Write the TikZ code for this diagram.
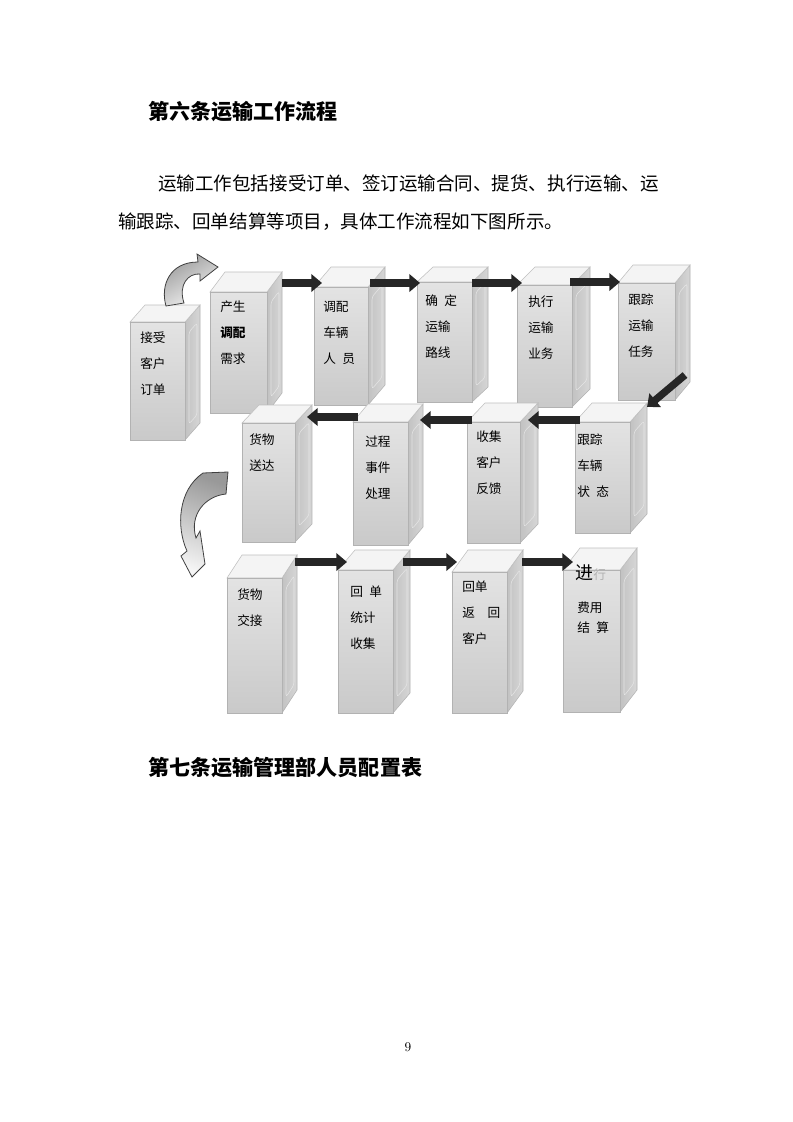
\documentclass[tikz,border=0pt]{standalone}
\usepackage{fontspec}
\newfontfamily\cjk{Noto Sans CJK SC}
\usetikzlibrary{calc,arrows.meta}
\newcommand\DrawPillar[7]{% name, left, front top, right, bottom, depth x, depth y
  \pgfmathsetmacro\pilW{(#4-#2)*0.75}
  \pgfmathsetmacro\pilH{(#5-#3)*0.75}
  \pgfmathsetmacro\pilRise{#7*(#6-7)/#6} % slope of the panel groove
  \shadedraw[side face] (#4,#3) -- ++(#6,-#7) -- ++(0,#5-#3) -- (#4,#5) -- cycle;
  \draw[panel line] (#4+4,#3+10) -- ++(#6-7,-\pilRise) -- ++(0,#5-#3-26)
    -- ++(-#6+7,\pilRise) -- cycle;
  \filldraw[top face] (#2,#3) -- ++(#6,-#7) -- ++(#4-#2,0) -- (#4,#3) -- cycle;
  \node[front face, minimum width=\pilW pt, minimum height=\pilH pt,
    anchor=north west] (#1) at (#2,#3) {};
}
\tikzset{%
  >=latex, % option for nice arrows
  front face/.style={draw=gray!60, top color=gray!22, bottom color=gray!42,
    inner sep=0pt, outer sep=0pt},
  top face/.style={fill=gray!9, draw=gray!50},
  side face/.style={left color=gray!48, right color=gray!32, draw=gray!60},
  panel line/.style={draw=gray!20, line width=0.4pt, rounded corners=2pt},
  flow/.style={line width=5.5pt, draw=black!85,
    -{Triangle[length=8pt,width=13pt]}},
  ribbon/.style={draw=black!75, line width=0.6pt, left color=gray!80,
    right color=gray!8},
  box text/.style={font=\cjk\fontsize{9.5}{19.5}\selectfont, align=left,
    anchor=north west, inner sep=0pt},
  head text/.style={font=\cjk\bfseries\fontsize{15.8}{18}\selectfont,
    anchor=west, inner sep=0pt},
  body text/.style={font=\cjk\fontsize{13.9}{18}\selectfont,
    anchor=west, inner sep=0pt}
}
\begin{document}
\begin{tikzpicture}[x=0.75pt,y=-0.75pt] % one unit = one pixel of the page
\useasboundingbox[fill=white] (0,0) rectangle (793,1122);

% page text
\node[head text] (title6) at (148,112) {第六条运输工作流程};
\node[body text] (line1) at (158,183) {运输工作包括接受订单、签订运输合同、提货、执行运输、运};
\node[body text] (line2) at (118,222) {输跟踪、回单结算等项目，具体工作流程如下图所示。};
\node[head text] (title7) at (148,768) {第七条运输管理部人员配置表};
\node[font=\fontsize{10}{12}\selectfont] (pagenum) at (408,1047) {9};

% pillars, back row first
\foreach \n/\xa/\yf/\xb/\yb/\dx/\dy in {
  b1/130/322/185/440/15/17, b2/210/292/267/413/15/20,
  b3/314/287/368/405/17/20, b4/417/282/472/402/16/15,
  b5/517/285/572/407/18/18, b6/618/283/675/400/15/18,
  b7/575/422/630/533/17/19, b8/467/422/520/543/18/19,
  b9/353/422/408/545/15/18, b10/242/423/295/542/17/18,
  b11/227/578/282/713/15/23, b12/338/570/393/713/17/20,
  b13/452/572/507/713/16/22, b14/563/570/620/712/17/22}
  { \DrawPillar{\n}{\xa}{\yf}{\xb}{\yb}{\dx}{\dy} }

% texts on the pillars
\node[box text] (t1) at (140,332) {接受\\客户\\订单};
\node[box text] (t2) at (220,301) {产生\\\textbf{调配}\\需求};
\node[box text] (t3) at (323,301) {调配\\车辆\\人\hspace{.5em}员};
\node[box text] (t4) at (425,294) {确\hspace{.5em}定\\运输\\路线};
\node[box text] (t5) at (528,296) {执行\\运输\\业务};
\node[box text] (t6) at (628,294) {跟踪\\运输\\任务};
\node[box text] (t7) at (577,434) {跟踪\\车辆\\状\hspace{.5em}态};
\node[box text] (t8) at (476,431) {收集\\客户\\反馈};
\node[box text] (t9) at (365,436) {过程\\事件\\处理};
\node[box text] (t10) at (249,434) {货物\\送达};
\node[box text] (t11) at (237,589) {货物\\交接};
\node[box text] (t12) at (350,586) {回\hspace{.5em}单\\统计\\收集};
\node[box text] (t13) at (462,581) {回单\\返\hspace{1em}回\\客户};
\node[box text] (t14a) at (575,564) {{\fontsize{13.5}{15}\selectfont 进}\textcolor{gray!60}{行}};
\node[box text, font=\cjk\fontsize{9.5}{14.5}\selectfont] (t14b) at (577,602) {费用\\结\hspace{.5em}算};

% straight flow arrows
\foreach \a/\ax/\ay/\b/\bx/\by in {b2/15/-9/b3/8/-4, b3/2/-4/b4/3/1,
  b4/0/1/b5/5/-2, b5/-2/-3/b6/2/-1, b11/13/-16/b12/9/-8,
  b12/10/-8/b13/5/-10, b13/15/-10/b14/10/-8}
  { \draw[flow] ($(\a.north east)+(\ax,\ay)$) -- ($(\b.north west)+(\bx,\by)$); }
\foreach \a/\ax/\ay/\b/\bx/\by in {b7/5/-2/b8/8/-2, b8/5/-2/b9/12/-2,
  b9/5/-5/b10/12/-6}
  { \draw[flow] ($(\a.north west)+(\ax,\ay)$) -- ($(\b.north east)+(\bx,\by)$); }
\draw[flow] ($(b6.south east)+(10,-25)$) -- ($(b7.north east)+(17,-15)$);

% curved ribbon arrows
\shadedraw[ribbon, shading angle=30] (166,306) .. controls (160,285) and (170,262) .. (198,262)
  -- (197,254) -- (218,267) -- (200,281) -- (200,274)
  .. controls (188,273) and (178,285) .. (184,303) -- cycle;
\shadedraw[ribbon, shading angle=-20] (203,473) -- (228,472) -- (226,494)
  .. controls (205,496) and (189,515) .. (196,538)
  -- (200,531) -- (205,564) -- (192,577) -- (181,556) -- (187,551)
  .. controls (176,527) and (178,490) .. (203,473) -- cycle;

\end{tikzpicture}
\end{document}
